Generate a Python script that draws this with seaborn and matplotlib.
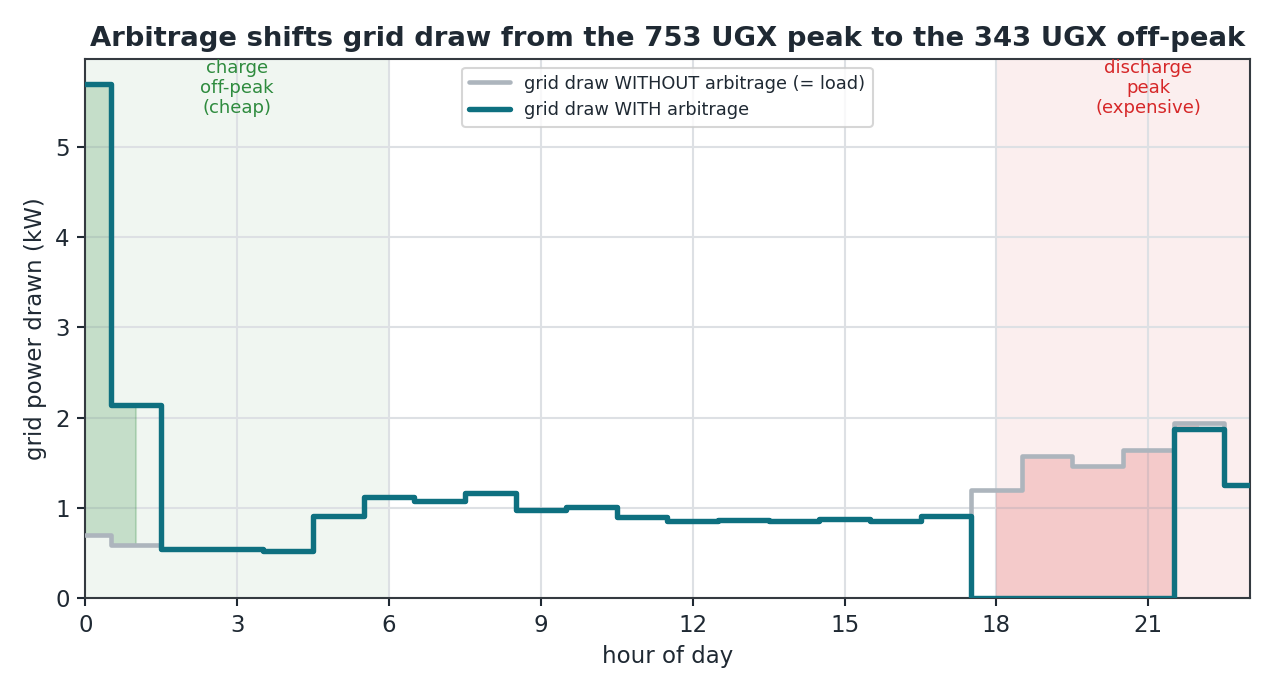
import numpy as np
import pandas as pd
import matplotlib
matplotlib.use("Agg")
import matplotlib.pyplot as plt
import seaborn as sns

hours = list(range(24))
load_kw = [0.70, 0.59, 0.55, 0.54, 0.52, 0.91, 1.12, 1.08, 1.16, 0.98, 1.01, 0.90,
           0.86, 0.87, 0.86, 0.88, 0.86, 0.91, 1.20, 1.57, 1.46, 1.64, 1.94, 1.25]
grid_kw = [5.69, 2.14, 0.55, 0.54, 0.52, 0.91, 1.12, 1.08, 1.16, 0.98, 1.01, 0.90,
           0.86, 0.87, 0.86, 0.88, 0.86, 0.91, 0.00, 0.00, 0.00, 0.00, 1.87, 1.25]
offpeak_window = [0, 6]
peak_window = [18, 24]

sns.set_theme(style="whitegrid")
plt.rcParams['font.family'] = ['DejaVu Sans']

ink = "#1f2933"
plt.rcParams.update({
    "axes.edgecolor": "#343a40",
    "axes.labelcolor": ink,
    "xtick.color": ink,
    "ytick.color": ink,
    "text.color": ink,
    "grid.color": "#dde0e4",
})

df = pd.DataFrame({"hour": hours, "load": load_kw, "grid": grid_kw})

fig, ax = plt.subplots(figsize=(8.5, 4.6), dpi=150)

ax.axvspan(*offpeak_window, color="#2e8b3e", alpha=0.07, lw=0, zorder=0)
ax.axvspan(*peak_window, color="#d62728", alpha=0.08, lw=0, zorder=0)

l = np.array(load_kw)
g = np.array(grid_kw)
ax.fill_between(hours, l, g, where=g > l, step="mid", color="#2e8b3e", alpha=0.22, lw=1, zorder=1)
ax.fill_between(hours, g, l, where=l > g, step="mid", color="#d62728", alpha=0.18, lw=0, zorder=1)

sns.lineplot(data=df, x="hour", y="load", drawstyle="steps-mid", color="#adb5bd", lw=2.2,
             label="grid draw WITHOUT arbitrage (= load)", ax=ax, zorder=3)
sns.lineplot(data=df, x="hour", y="grid", drawstyle="steps-mid", color="#0e7080", lw=2.6,
             label="grid draw WITH arbitrage", ax=ax, zorder=4)

ax.set_xlim(0, 23)
ax.set_ylim(0, max(grid_kw) * 1.05)
ax.set_xticks(range(0, 24, 3))
ax.set_xlabel("hour of day", fontsize=11)
ax.set_ylabel("grid power drawn (kW)", fontsize=11)
ax.tick_params(labelsize=11, length=4, width=1, bottom=True, left=True)
for s in ax.spines.values():
    s.set_linewidth(1.0)

ymax = ax.get_ylim()[1]
ax.text(3, ymax * 1.0, "charge\noff-peak\n(cheap)", ha="center", va="top", fontsize=8.7,
        color="#2e8b3e", linespacing=1.15)
ax.text(21, ymax * 1.0, "discharge\npeak\n(expensive)", ha="center", va="top", fontsize=8.7,
        color="#d62728", linespacing=1.15)

ax.set_title("Arbitrage shifts grid draw from the 753 UGX peak to the 343 UGX off-peak",
             fontsize=13.2, fontweight="bold", color=ink)
ax.legend(loc="upper center", fontsize=8.5, frameon=True, handlelength=2.3)

fig.subplots_adjust(left=0.067, right=0.98, top=0.915, bottom=0.133)
fig.savefig("out.png", dpi=150)
